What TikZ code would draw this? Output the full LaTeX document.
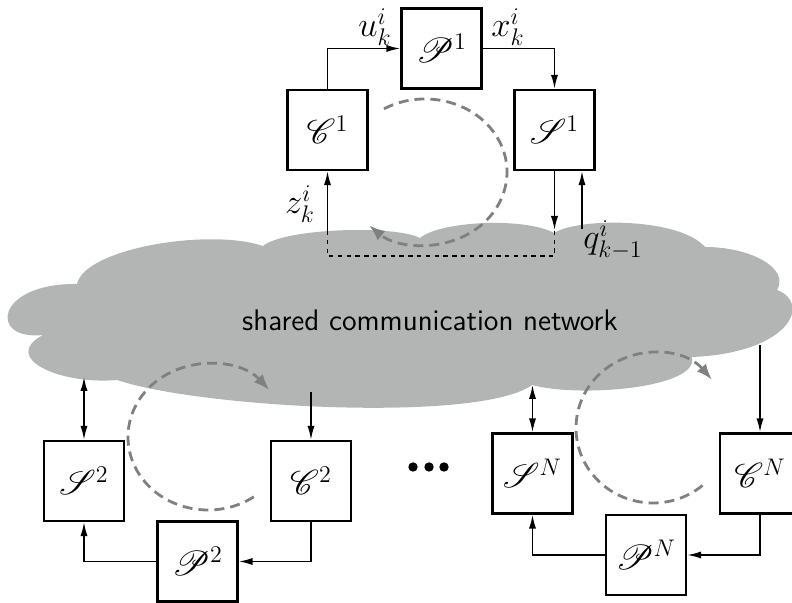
\documentclass[tikz,border=0pt]{standalone}
\usepackage{mathrsfs}
\usetikzlibrary{arrows.meta,calc}
\definecolor{cloudgray}{RGB}{179,181,181}
\definecolor{loopgray}{RGB}{128,128,128}
\begin{document}
\begin{tikzpicture}
  [x=0.5pt,y=0.5pt,font=\LARGE,
   block/.style={draw,line width=1.2pt,fill=white,minimum size=40pt,inner sep=0pt},
   sig/.style={inner sep=1pt},
   wire/.style={line width=0.8pt,-{Latex[length=7pt,width=3.6pt]}},
   dblwire/.style={line width=0.8pt,{Latex[length=7pt,width=3.6pt]}-{Latex[length=7pt,width=3.6pt]}},
   roundtrip/.style={loopgray,line width=1.4pt,dash pattern=on 5pt off 3pt,-{Latex[length=8pt,width=6pt]}},
   link/.style={line width=0.8pt,dash pattern=on 2.2pt off 2.2pt}]
  \clip (0,0) rectangle (792,603);
  % network cloud
  \fill[cloudgray] (43,268) .. controls (-12,262) and (-5,320) .. (77,319)
    .. controls (85,355) and (210,375) .. (263,357)
    .. controls (285,375) and (395,378) .. (420,365)
    .. controls (440,382) and (525,386) .. (554,370)
    .. controls (580,386) and (680,385) .. (705,356)
    .. controls (750,356) and (790,335) .. (777,313)
    .. controls (812,300) and (790,250) .. (692,246)
    .. controls (700,215) and (580,205) .. (532,218)
    .. controls (480,180) and (200,195) .. (117,223)
    .. controls (60,218) and (0,245) .. (43,268) -- cycle;
  \node (net) at (430,283) {\fontsize{14.9}{18}\selectfont\sffamily shared communication network};

  % loop 1
  \node (P1)[block] at (441.5,554.5) {$\mathscr{P}^1$};
  \node (C1)[block] at (327.5,473) {$\mathscr{C}^1$};
  \node (S1)[block] at (554.5,473) {$\mathscr{S}^1$};
  \node (u1)[sig] at (375,576) {$u_k^i$};
  \node (x1)[sig] at (508,576) {$x_k^i$};
  \node (z1)[sig] at (300,399) {$z_k^i$};
  \node (q1)[sig] at (613,363) {$q_{k-1}^i$};
  \coordinate (zin) at (327.5,372);
  \coordinate (sout) at (554.5,373);
  \coordinate (qin) at (582,374);
  \coordinate (qtop) at (S1.south -| qin);
  \coordinate (dl) at (327.5,347);
  \coordinate (dr) at (554.5,347);
  \draw[wire] (C1.north) |- (P1.west);
  \draw[wire] (P1.east) -| (S1.north);
  \draw[wire] (zin) -- (C1.south);
  \draw[wire] (S1.south) -- (sout);
  \draw[wire] (qin) -- (qtop);
  \draw[link] (zin) -- (dl) -- (dr) -- (sout);
  \coordinate (o1) at (425,431);
  \draw[roundtrip] ($(o1)+(120:41pt and 36.5pt)$) arc[start angle=120,end angle=-133,x radius=41pt,y radius=36.5pt];

  % loops 2 and N
  \node (S2)[block] at (84,122) {$\mathscr{S}^2$};
  \node (C2)[block] at (311,122) {$\mathscr{C}^2$};
  \node (P2)[block] at (197.5,41.5) {$\mathscr{P}^2$};
  \node (SN)[block] at (532.5,129.5) {$\mathscr{S}^N$};
  \node (CN)[block] at (760,129.5) {$\mathscr{C}^N$};
  \node (PN)[block] at (646,48) {$\mathscr{P}^N$};
  \coordinate (s2net) at (84,226);
  \coordinate (c2net) at (311,211);
  \coordinate (snnet) at (532.5,218);
  \coordinate (cnnet) at (760,258);
  \draw[dblwire] (s2net) -- (S2.north);
  \draw[dblwire] (snnet) -- (SN.north);
  \draw[wire] (c2net) -- (C2.north);
  \draw[wire] (cnnet) -- (CN.north);
  \foreach \s/\c/\p in {S2/C2/P2,SN/CN/PN}
    {\draw[wire] (\c.south) |- (\p.east);
     \draw[wire] (\p.west) -| (\s.south);}
  \coordinate (o2) at (208,166);
  \coordinate (oN) at (653,175);
  \draw[roundtrip] ($(o2)+(-55:40pt and 36.5pt)$) arc[start angle=-55,end angle=-320,x radius=40pt,y radius=36.5pt];
  \draw[roundtrip] ($(oN)+(-50:38.5pt and 37.5pt)$) arc[start angle=-50,end angle=-320,x radius=38.5pt,y radius=37.5pt];
  \foreach \x in {413,429,444}
    \fill (\x,136) circle (2.35pt);
\end{tikzpicture}
\end{document}
